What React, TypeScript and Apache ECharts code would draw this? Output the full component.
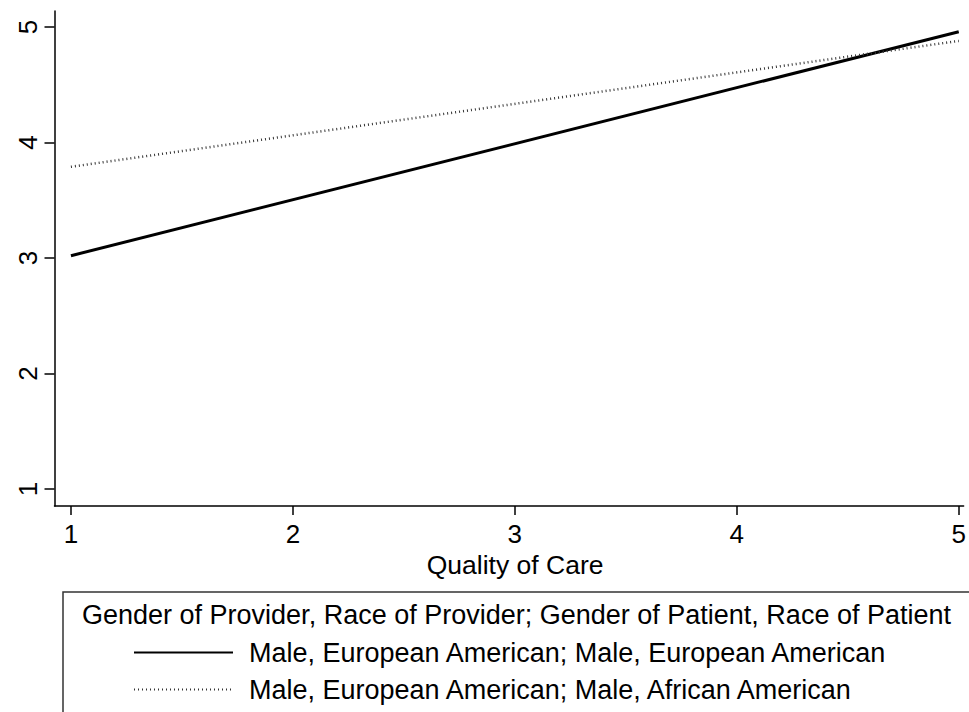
import React, { useEffect, useRef } from "react";
import * as echarts from "echarts";

const tickValues = [1, 2, 3, 4, 5];
const xValues = [1, 5];
const euroEuro = [3.02, 4.96];
const euroAfr = [3.79, 4.88];
const seriesNames = [
  "Male, European American; Male, European American",
  "Male, European American; Male, African American",
];
const legendTitle =
  "Gender of Provider, Race of Provider; Gender of Patient, Race of Patient";
const xTitle = "Quality of Care";

const FONT = "'Liberation Sans', Arial, Helvetica, sans-serif";

export default function App() {
  const ref = useRef<HTMLDivElement>(null);
  useEffect(() => {
    if (!ref.current) return;
    const chart = echarts.init(ref.current, undefined, { renderer: "svg" });
    const toPairs = (ys: number[]) => xValues.map((x, i) => [x, ys[i]]);
    chart.setOption({
      animation: false,
      backgroundColor: "#fff",
      textStyle: { fontFamily: FONT },
      grid: { left: 54.5, right: 0, top: 11, bottom: 206, containLabel: false },
      xAxis: {
        type: "value",
        min: 0.926,
        max: 5.022,
        name: xTitle,
        nameLocation: "middle",
        nameGap: 41,
        nameTextStyle: { fontSize: 26.5, color: "#000", fontFamily: FONT, padding: [0, 0, 0, 12] },
        axisLine: { show: true, lineStyle: { color: "#000", width: 1.5 } },
        axisTick: { show: true, customValues: tickValues, length: 9, lineStyle: { color: "#000", width: 1.5 } },
        axisLabel: { show: true, customValues: tickValues, fontSize: 26, color: "#000", margin: 15, fontFamily: FONT },
        splitLine: { show: false },
      },
      yAxis: {
        type: "value",
        min: 0.853,
        max: 5.139,
        axisLine: { show: true, lineStyle: { color: "#000", width: 1.5 } },
        axisTick: { show: true, customValues: tickValues, length: 10, lineStyle: { color: "#000", width: 1.5 } },
        axisLabel: { show: true, customValues: tickValues, fontSize: 26, color: "#000", rotate: 90, margin: 14, fontFamily: FONT },
        splitLine: { show: false },
      },
      legend: {
        orient: "vertical",
        left: 133,
        top: 639,
        itemWidth: 99,
        itemHeight: 26,
        itemGap: 10,
        padding: 0,
        itemStyle: { opacity: 0, borderWidth: 0, color: "transparent" },
        textStyle: { fontSize: 27, color: "#000", fontFamily: FONT, padding: [0, 0, 0, 11], lineHeight: 26 },
        data: seriesNames,
      },
      graphic: [
        {
          type: "rect",
          shape: { x: 63, y: 592, width: 920, height: 200 },
          style: { fill: "none", stroke: "#333", lineWidth: 1.5 },
          silent: true,
        },
        {
          type: "text",
          x: 82,
          y: 615,
          style: {
            text: legendTitle,
            fontSize: 27,
            fill: "#000",
            fontFamily: FONT,
            verticalAlign: "middle",
            align: "left",
          },
          silent: true,
        },
      ],
      series: [
        {
          name: seriesNames[0],
          type: "line",
          data: toPairs(euroEuro),
          symbol: "none",
          lineStyle: { color: "#000", width: 3, type: "solid" },
          itemStyle: { color: "#000" },
        },
        {
          name: seriesNames[1],
          type: "line",
          data: toPairs(euroAfr),
          symbol: "none",
          lineStyle: { color: "#333", width: 2.5, type: [1, 3] },
          itemStyle: { color: "#333" },
        },
      ],
    });
    return () => chart.dispose();
  }, []);
  return (
    <div
      ref={ref}
      style={{ position: "fixed", left: 0, top: 0, width: 969, height: 712, background: "#fff" }}
    />
  );
}
